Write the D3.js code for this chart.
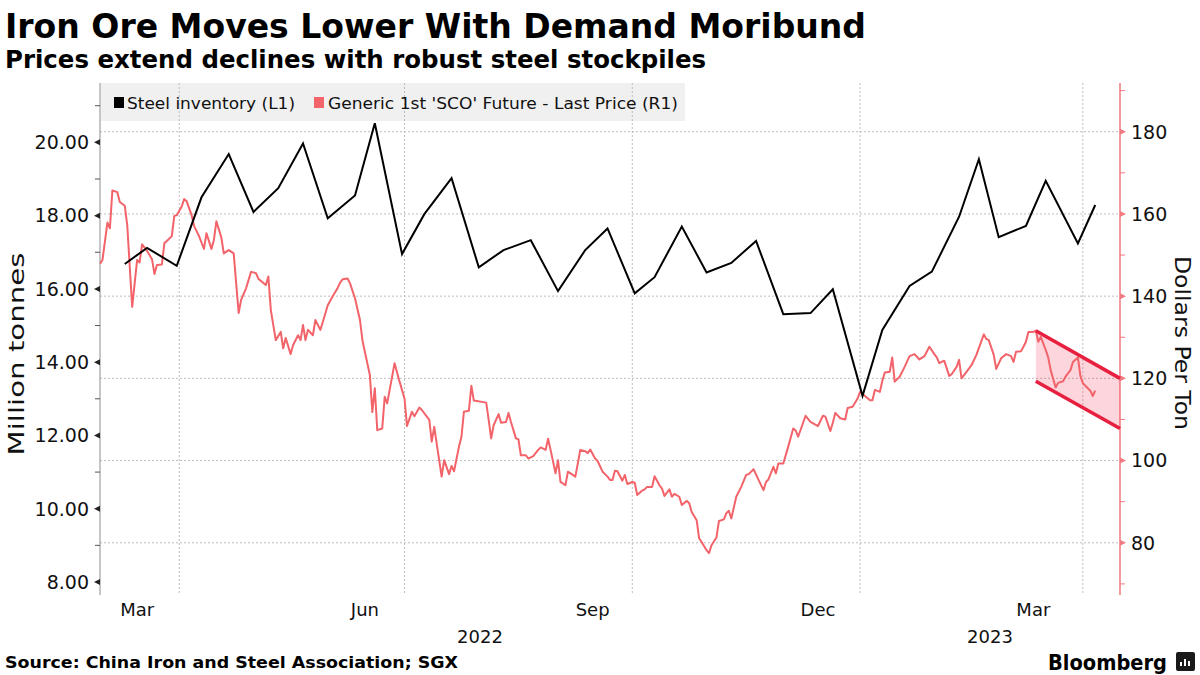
<!DOCTYPE html>
<html><head><meta charset="utf-8">
<script src="https://cdn.jsdelivr.net/npm/d3@7"></script>
<style>
body{margin:0;background:#fff;}
svg{display:block;font-family:"DejaVu Sans",sans-serif;}
</style></head><body>
<svg id="c" width="1200" height="675"></svg>
<script>
// ---------- DATA ----------
const inventoryDates = ["2022-03-10","2022-03-19","2022-03-31","2022-04-10","2022-04-21","2022-05-01","2022-05-11","2022-05-21","2022-05-31","2022-06-11","2022-06-19","2022-06-30","2022-07-09","2022-07-20","2022-07-31","2022-08-10","2022-08-21","2022-09-01","2022-09-12","2022-09-21","2022-10-02","2022-10-10","2022-10-21","2022-10-31","2022-11-10","2022-11-20","2022-12-01","2022-12-12","2022-12-21","2023-01-02","2023-01-10","2023-01-21","2023-01-30","2023-02-10","2023-02-18","2023-02-26","2023-03-09","2023-03-17","2023-03-30","2023-04-06"];
const inventoryValues = [16.68,17.12,16.63,18.50,19.68,18.10,18.75,19.97,17.93,18.55,20.52,16.95,18.04,19.02,16.59,17.06,17.33,15.94,17.06,17.65,15.88,16.32,17.70,16.45,16.71,17.31,15.31,15.34,15.99,13.08,14.88,16.08,16.47,17.97,19.54,17.41,17.72,18.95,17.24,18.29];

const priceDates = ["2022-02-28","2022-03-01","2022-03-03","2022-03-04","2022-03-05","2022-03-07","2022-03-08","2022-03-10","2022-03-11","2022-03-12","2022-03-13","2022-03-15","2022-03-16","2022-03-17","2022-03-19","2022-03-21","2022-03-22","2022-03-23","2022-03-25","2022-03-26","2022-03-27","2022-03-29","2022-03-30","2022-03-31",
"2022-04-02","2022-04-03","2022-04-04","2022-04-06","2022-04-07","2022-04-09","2022-04-11","2022-04-12","2022-04-14","2022-04-15","2022-04-16","2022-04-18","2022-04-19","2022-04-21","2022-04-23","2022-04-25","2022-04-26","2022-04-28","2022-04-30",
"2022-05-02","2022-05-03","2022-05-05","2022-05-06","2022-05-07","2022-05-08","2022-05-10","2022-05-12","2022-05-13","2022-05-14","2022-05-16","2022-05-17","2022-05-19","2022-05-20","2022-05-21","2022-05-22","2022-05-23","2022-05-25","2022-05-26","2022-05-28","2022-05-29","2022-05-31",
"2022-06-02","2022-06-04","2022-06-05","2022-06-06","2022-06-08","2022-06-09","2022-06-11","2022-06-13","2022-06-14","2022-06-15","2022-06-17","2022-06-18","2022-06-19","2022-06-20","2022-06-22","2022-06-23","2022-06-24","2022-06-27","2022-06-29",
"2022-07-01","2022-07-02","2022-07-04","2022-07-05","2022-07-07","2022-07-08","2022-07-11","2022-07-12","2022-07-13","2022-07-15","2022-07-16","2022-07-17","2022-07-19","2022-07-20","2022-07-21","2022-07-23","2022-07-24","2022-07-25","2022-07-27","2022-07-28","2022-07-29",
"2022-08-03","2022-08-04","2022-08-05","2022-08-06","2022-08-08","2022-08-09","2022-08-11","2022-08-12","2022-08-13","2022-08-15","2022-08-16","2022-08-17","2022-08-19","2022-08-20","2022-08-22","2022-08-24","2022-08-25","2022-08-27","2022-08-28","2022-08-29","2022-08-31",
"2022-09-01","2022-09-02","2022-09-04","2022-09-05","2022-09-08","2022-09-09","2022-09-10","2022-09-12","2022-09-13","2022-09-14","2022-09-16","2022-09-17","2022-09-19","2022-09-21","2022-09-22","2022-09-23","2022-09-24","2022-09-25","2022-09-27","2022-09-28","2022-09-29",
"2022-10-01","2022-10-02","2022-10-03","2022-10-05","2022-10-06","2022-10-07","2022-10-09","2022-10-10","2022-10-12","2022-10-13","2022-10-14","2022-10-16","2022-10-17","2022-10-18","2022-10-20","2022-10-21","2022-10-23","2022-10-24","2022-10-25","2022-10-27","2022-10-28","2022-10-29","2022-10-31",
"2022-11-01","2022-11-02","2022-11-04","2022-11-05","2022-11-07","2022-11-08","2022-11-09","2022-11-10","2022-11-12","2022-11-14","2022-11-16","2022-11-17","2022-11-19","2022-11-21","2022-11-23","2022-11-24","2022-11-25","2022-11-27","2022-11-28","2022-11-29",
"2022-12-01","2022-12-03","2022-12-05","2022-12-06","2022-12-07","2022-12-10","2022-12-12","2022-12-15","2022-12-17","2022-12-18","2022-12-20","2022-12-21","2022-12-22","2022-12-24","2022-12-26","2022-12-27","2022-12-29","2022-12-31",
"2023-01-01","2023-01-03","2023-01-05","2023-01-06","2023-01-07","2023-01-09","2023-01-10","2023-01-11","2023-01-13","2023-01-14","2023-01-15","2023-01-17","2023-01-19","2023-01-21","2023-01-23","2023-01-25","2023-01-27","2023-01-29","2023-01-31",
"2023-02-01","2023-02-02","2023-02-04","2023-02-06","2023-02-07","2023-02-09","2023-02-10","2023-02-11","2023-02-13","2023-02-15","2023-02-17","2023-02-20","2023-02-21","2023-02-22","2023-02-24","2023-02-25","2023-02-27",
"2023-03-01","2023-03-03","2023-03-04","2023-03-05","2023-03-07","2023-03-08","2023-03-09","2023-03-10","2023-03-12","2023-03-13","2023-03-14","2023-03-15","2023-03-17","2023-03-18","2023-03-19","2023-03-21","2023-03-22","2023-03-24","2023-03-25","2023-03-27","2023-03-28","2023-03-30","2023-03-31",
"2023-04-01","2023-04-03","2023-04-04","2023-04-05","2023-04-06"];
const priceValues = [147.9,148.8,157.9,156.5,165.7,165.3,162.9,162.0,157.3,147.3,137.4,148.8,148.2,152.6,151.0,149.0,145.4,147.6,147.7,152.9,153.4,154.6,159.5,159.7,
161.8,163.6,163.1,159.7,157.1,154.6,151.5,155.3,151.5,153.6,158.2,154.3,150.4,151.2,150.4,135.9,139.1,141.9,145.9,
145.6,144.2,143.2,142.7,144.8,136.6,129.3,131.3,127.3,129.8,125.9,128.1,130.5,129.3,133.0,129.3,131.8,130.5,134.2,131.8,133.7,137.8,
140.0,142.0,143.3,144.1,144.3,143.1,139.5,134.2,129.3,126.4,120.8,111.8,117.6,107.4,107.8,115.5,113.9,123.7,119.2,
115.1,108.4,111.9,110.8,112.9,112.3,109.9,104.6,108.2,100.1,96.1,100.1,96.7,98.7,97.4,103.4,105.8,111.9,112.1,118.2,114.6,
114.1,109.9,105.4,108.6,111.3,109.2,109.4,111.6,109.4,105.4,105.2,101.3,101.3,100.5,101.1,102.6,103.2,102.6,105.3,102.6,96.9,
100.1,94.8,94.0,97.3,96.1,99.3,102.6,102.3,101.8,102.7,100.5,99.9,97.3,96.1,95.3,95.3,97.5,97.4,95.1,96.5,94.3,
94.8,94.6,91.6,92.7,93.0,93.6,93.6,96.2,94.0,93.2,91.4,93.0,91.2,91.9,91.2,89.2,90.2,89.6,87.5,85.5,81.1,80.2,78.2,
77.5,79.4,81.3,85.3,85.7,87.2,87.8,85.9,91.2,93.6,96.5,96.7,97.9,95.3,92.8,94.8,95.4,98.5,96.9,99.3,
99.3,103.4,107.8,107.3,105.8,110.9,109.4,108.4,110.9,110.7,107.2,109.2,111.6,110.3,110.0,112.8,113.1,115.1,
116.7,115.7,114.7,114.7,117.2,116.7,119.4,121.4,121.6,125.1,119.2,120.4,122.8,125.4,125.9,124.6,125.4,127.7,125.9,
125.1,123.7,124.3,120.6,121.0,122.8,124.5,120.0,121.6,123.2,125.7,130.7,129.6,129.3,125.7,122.3,124.9,
125.9,125.4,124.0,126.5,126.6,127.7,128.9,131.3,131.3,131.6,128.9,130.1,126.9,125.1,122.0,117.8,118.9,119.3,120.4,122.0,124.0,125.1,120.6,
118.8,117.6,117.0,115.7,117.0];

const leftTicks = [8,10,12,14,16,18,20];
const leftMinorTicks = [9,11,13,15,17,19,21];
const rightTicks = [80,100,120,140,160,180];
const rightMinorTicks = [70,90,110,130,150,170,190];
const monthLabelDates = ["2022-03-15","2022-06-15","2022-09-15","2022-12-15","2023-03-12"];
const monthLabels = ["Mar","Jun","Sep","Dec","Mar"];
const quarterGridDates = ["2022-04-01","2022-07-01","2022-10-01","2023-01-01","2023-04-01"];
const yearLabels = ["2022","2023"];
const yearStarts = ["2022-01-01","2023-01-01"];
const channelDates = ["2023-03-13","2023-04-16"];
const channelUpper = [131.6,120.0];
const channelLower = [119.3,107.8];
const seriesNames = ["Steel inventory (L1)","Generic 1st 'SCO' Future - Last Price (R1)"];

// ---------- SETUP ----------
const parse = d3.utcParse("%Y-%m-%d");
const svg = d3.select("#c");
const L = 100, R = 1120, T = 83, B = 595;
const x = d3.scaleUtc().domain([parse("2022-02-28"), parse("2023-04-16")]).range([L, R]);
const yL = d3.scaleLinear().domain([7.645, 21.62]).range([B, T]);
const yR = d3.scaleLinear().domain([67.3, 191.85]).range([B, T]);

const RED = "#f2636a", AXRED = "#f27a80", CH = "#e8203f";

// legend background
svg.append("rect").attr("x", L + 1).attr("y", T).attr("width", 584).attr("height", 38).attr("fill", "#f0f0f0");

// gridlines
svg.append("g").selectAll("line").data(rightTicks).join("line")
  .attr("x1", L).attr("x2", R).attr("y1", d => yR(d)).attr("y2", d => yR(d))
  .attr("stroke", "#bdbdbd").attr("stroke-width", 1).attr("stroke-dasharray", "2,2");
svg.append("g").selectAll("line").data(quarterGridDates).join("line")
  .attr("x1", d => x(parse(d))).attr("x2", d => x(parse(d))).attr("y1", T).attr("y2", B)
  .attr("stroke", "#bdbdbd").attr("stroke-width", 1).attr("stroke-dasharray", "2,2");

// legend
const lg = svg.append("g");
lg.append("rect").attr("x", 114).attr("y", 97).attr("width", 10).attr("height", 11).attr("fill", "#000");
lg.append("text").attr("x", 127).attr("y", 109).attr("font-size", 15).attr("textLength", 168).attr("lengthAdjust", "spacingAndGlyphs").attr("fill", "#111").text(seriesNames[0]);
lg.append("rect").attr("x", 314).attr("y", 97).attr("width", 10).attr("height", 11).attr("fill", RED);
lg.append("text").attr("x", 328).attr("y", 109).attr("font-size", 15).attr("textLength", 350).attr("lengthAdjust", "spacingAndGlyphs").attr("fill", "#111").text(seriesNames[1]);

// axes lines
svg.append("line").attr("x1", L).attr("x2", L).attr("y1", T).attr("y2", B).attr("stroke", "#8c8c8c").attr("stroke-width", 1);
svg.append("line").attr("x1", R).attr("x2", R).attr("y1", T).attr("y2", B).attr("stroke", AXRED).attr("stroke-width", 1.5);

// left ticks
svg.append("g").selectAll("path").data(leftTicks).join("path")
  .attr("d", d => `M${L},${yL(d) - 3}L${L - 6},${yL(d)}L${L},${yL(d) + 3}Z`).attr("fill", "#222");
svg.append("g").selectAll("line").data(leftMinorTicks).join("line")
  .attr("x1", L - 5).attr("x2", L).attr("y1", d => yL(d)).attr("y2", d => yL(d)).attr("stroke", "#555");
svg.append("g").selectAll("text").data(leftTicks).join("text")
  .attr("x", 89).attr("y", d => yL(d)).attr("dy", "0.36em").attr("text-anchor", "end")
  .attr("font-size", 19).attr("fill", "#111").text(d => d3.format(".2f")(d));

// right ticks
svg.append("g").selectAll("path").data(rightTicks).join("path")
  .attr("d", d => `M${R},${yR(d) - 3}L${R + 6},${yR(d)}L${R},${yR(d) + 3}Z`).attr("fill", AXRED);
svg.append("g").selectAll("line").data(rightMinorTicks).join("line")
  .attr("x1", R).attr("x2", R + 5).attr("y1", d => yR(d)).attr("y2", d => yR(d)).attr("stroke", AXRED);
svg.append("g").selectAll("text").data(rightTicks).join("text")
  .attr("x", 1131).attr("y", d => yR(d)).attr("dy", "0.36em").attr("text-anchor", "start")
  .attr("font-size", 19).attr("fill", "#111").text(d => d);

// x labels
svg.append("g").selectAll("text").data(monthLabelDates).join("text")
  .attr("x", d => x(parse(d))).attr("y", 616).attr("text-anchor", "middle")
  .attr("font-size", 18).attr("fill", "#111").text((d, i) => monthLabels[i]);
svg.append("g").selectAll("text").data(yearLabels).join("text")
  .attr("x", (d, i) => {
    const a = Math.max(x(parse(yearStarts[i])), L);
    const b = i + 1 < yearStarts.length ? x(parse(yearStarts[i + 1])) : R;
    return (a + b) / 2;
  })
  .attr("y", 643).attr("text-anchor", "middle").attr("font-size", 18).attr("fill", "#111").text(d => d);

// axis titles
svg.append("text").attr("transform", "translate(24,354) rotate(-90)").attr("text-anchor", "middle")
  .attr("font-size", 22).attr("textLength", 203).attr("lengthAdjust", "spacingAndGlyphs").attr("fill", "#111").text("Million tonnes");
svg.append("text").attr("transform", "translate(1175,343) rotate(90)").attr("text-anchor", "middle")
  .attr("font-size", 22).attr("textLength", 174).attr("lengthAdjust", "spacingAndGlyphs").attr("fill", "#111").text("Dollars Per Ton");

// channel fill
const chData = channelDates.map((d, i) => ({date: parse(d), hi: channelUpper[i], lo: channelLower[i]}));
svg.append("path").datum(chData)
  .attr("d", d3.area().x(d => x(d.date)).y0(d => yR(d.lo)).y1(d => yR(d.hi)))
  .attr("fill", "rgba(245,45,85,0.2)");

// price line
const price = priceDates.map((d, i) => ({date: parse(d), v: priceValues[i]}));
svg.append("path").datum(price)
  .attr("d", d3.line().x(d => x(d.date)).y(d => yR(d.v)))
  .attr("fill", "none").attr("stroke", RED).attr("stroke-width", 2).attr("stroke-linejoin", "round");

// channel lines
[channelUpper, channelLower].forEach(arr => {
  svg.append("path").datum(chData.map((d, i) => ({date: d.date, v: arr[i]})))
    .attr("d", d3.line().x(d => x(d.date)).y(d => yR(d.v)))
    .attr("fill", "none").attr("stroke", CH).attr("stroke-width", 3.5);
});

// inventory line
const inv = inventoryDates.map((d, i) => ({date: parse(d), v: inventoryValues[i]}));
svg.append("path").datum(inv)
  .attr("d", d3.line().x(d => x(d.date)).y(d => yL(d.v)))
  .attr("fill", "none").attr("stroke", "#000").attr("stroke-width", 2).attr("stroke-linejoin", "miter");

// titles
svg.append("text").attr("x", 5).attr("y", 38).attr("font-size", 34).attr("font-weight", "bold")
  .attr("textLength", 861).attr("lengthAdjust", "spacingAndGlyphs").attr("fill", "#000")
  .text("Iron Ore Moves Lower With Demand Moribund");
svg.append("text").attr("x", 5).attr("y", 68).attr("font-size", 24).attr("font-weight", "bold")
  .attr("textLength", 701).attr("lengthAdjust", "spacingAndGlyphs").attr("fill", "#000")
  .text("Prices extend declines with robust steel stockpiles");

// footer
svg.append("text").attr("x", 5).attr("y", 668).attr("font-size", 16).attr("font-weight", "bold")
  .attr("textLength", 453).attr("lengthAdjust", "spacingAndGlyphs").attr("fill", "#000")
  .text("Source: China Iron and Steel Association; SGX");
svg.append("text").attr("x", 1048).attr("y", 670).attr("font-size", 22).attr("font-weight", "bold")
  .attr("textLength", 119).attr("lengthAdjust", "spacingAndGlyphs").attr("fill", "#000").text("Bloomberg");
const ic = svg.append("g");
ic.append("rect").attr("x", 1176).attr("y", 652).attr("width", 19).attr("height", 19).attr("rx", 2).attr("fill", "#1a1a1a");
[[1180, 662, 6], [1184, 659, 9], [1188, 661, 7]].forEach(b => {
  ic.append("rect").attr("x", b[0]).attr("y", b[1]).attr("width", 2).attr("height", b[2] - 2).attr("fill", "#fff");
});
</script>
</body></html>
